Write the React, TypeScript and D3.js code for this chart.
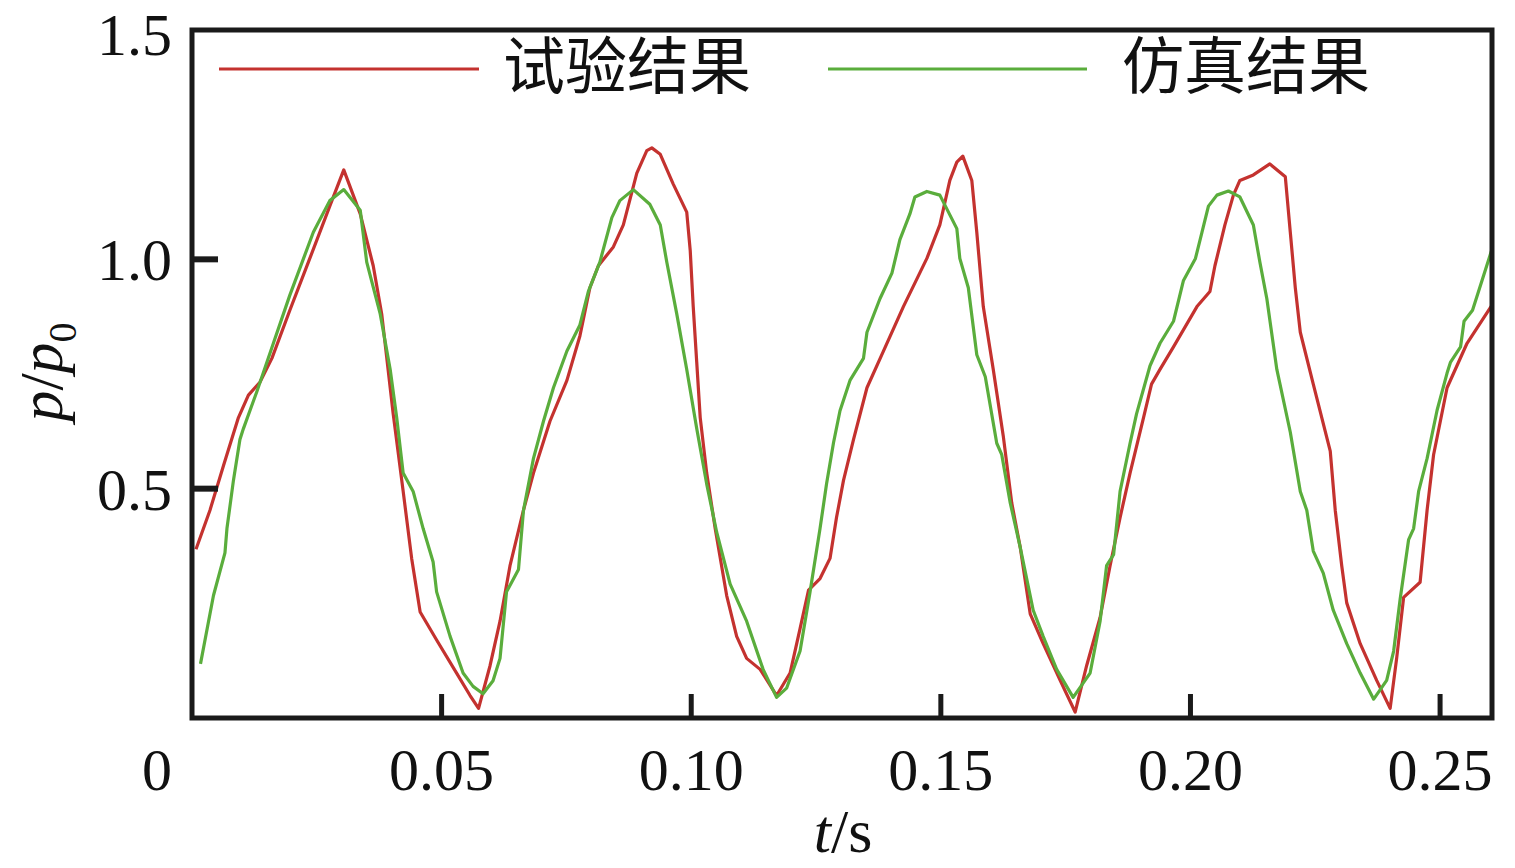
import React from "react";
import * as d3 from "d3";

// ---- data ----
const expT = [0.0008,0.0036,0.0063,0.0093,0.0113,0.0136,0.016,0.0196,0.0236,0.0276,0.0304,0.0337,0.0363,0.038,0.0403,0.0423,0.044,0.0457,0.049,0.053,0.0557,0.0574,0.0597,0.0617,0.0637,0.0664,0.0684,0.0717,0.0751,0.0777,0.0797,0.0814,0.0844,0.0864,0.0891,0.0911,0.0921,0.0938,0.0964,0.0991,0.0998,0.1004,0.1011,0.1018,0.1031,0.1048,0.1071,0.1091,0.1111,0.1138,0.1171,0.1198,0.1218,0.1235,0.1258,0.1278,0.1291,0.1305,0.1325,0.1352,0.1385,0.1425,0.1472,0.1498,0.1518,0.1532,0.1544,0.1562,0.1572,0.1585,0.1605,0.1625,0.1642,0.1659,0.1679,0.1705,0.1739,0.1769,0.1792,0.1819,0.1839,0.1859,0.1879,0.1906,0.1922,0.1939,0.1966,0.2013,0.2039,0.2049,0.2069,0.2086,0.2099,0.2126,0.2159,0.219,0.22,0.221,0.222,0.2246,0.228,0.229,0.2303,0.2313,0.234,0.2373,0.24,0.2413,0.2427,0.246,0.2474,0.2487,0.2514,0.2554,0.2604];
const expV = [0.368,0.453,0.55,0.655,0.704,0.732,0.784,0.889,1.002,1.116,1.195,1.099,0.986,0.881,0.663,0.494,0.348,0.231,0.17,0.098,0.049,0.021,0.114,0.211,0.332,0.453,0.534,0.647,0.736,0.833,0.938,0.986,1.027,1.075,1.188,1.237,1.243,1.229,1.164,1.103,1.019,0.897,0.776,0.655,0.534,0.413,0.267,0.178,0.13,0.106,0.049,0.098,0.195,0.279,0.304,0.348,0.437,0.518,0.607,0.72,0.8,0.897,1.002,1.075,1.172,1.212,1.225,1.172,1.059,0.897,0.76,0.615,0.469,0.372,0.227,0.162,0.082,0.013,0.114,0.219,0.332,0.437,0.534,0.655,0.728,0.76,0.809,0.897,0.93,0.986,1.075,1.14,1.172,1.184,1.208,1.18,1.059,0.938,0.841,0.728,0.582,0.453,0.332,0.251,0.162,0.082,0.021,0.13,0.263,0.296,0.453,0.574,0.72,0.817,0.9];

const simT = [0.0017,0.0043,0.0066,0.007,0.0083,0.0096,0.0103,0.013,0.0163,0.0196,0.0243,0.0276,0.0304,0.0337,0.035,0.0377,0.0397,0.041,0.0423,0.0443,0.0463,0.0483,0.049,0.0517,0.0543,0.0563,0.0583,0.0603,0.0617,0.063,0.0654,0.0664,0.0684,0.0704,0.0724,0.0751,0.0777,0.0794,0.0817,0.0841,0.0857,0.0884,0.0917,0.0938,0.0951,0.0971,0.0991,0.1011,0.1031,0.1051,0.1078,0.1111,0.1144,0.1171,0.1191,0.1218,0.1238,0.1258,0.1271,0.1285,0.1298,0.1318,0.1345,0.1352,0.1378,0.1402,0.1418,0.1438,0.1448,0.1472,0.1498,0.1532,0.1538,0.1555,0.1572,0.1589,0.1612,0.1622,0.1639,0.1659,0.1685,0.1705,0.1732,0.1765,0.1799,0.1819,0.1832,0.1846,0.1859,0.1879,0.1892,0.1919,0.1939,0.1966,0.1986,0.201,0.2023,0.2036,0.2053,0.2076,0.2099,0.2126,0.2139,0.2153,0.2173,0.22,0.222,0.2233,0.2246,0.2266,0.2286,0.2313,0.234,0.2367,0.2393,0.2407,0.242,0.2437,0.2447,0.2457,0.2474,0.2494,0.2514,0.2521,0.2541,0.2548,0.2565,0.2604];
const simV = [0.118,0.267,0.36,0.413,0.518,0.607,0.631,0.712,0.817,0.922,1.059,1.128,1.152,1.107,0.994,0.881,0.76,0.655,0.534,0.494,0.413,0.34,0.275,0.178,0.098,0.069,0.053,0.081,0.13,0.275,0.324,0.453,0.566,0.647,0.72,0.8,0.857,0.93,0.994,1.091,1.128,1.152,1.12,1.075,0.994,0.881,0.76,0.631,0.51,0.405,0.292,0.211,0.106,0.045,0.065,0.146,0.275,0.413,0.51,0.6,0.67,0.736,0.784,0.841,0.914,0.97,1.043,1.099,1.136,1.148,1.14,1.067,1.002,0.938,0.792,0.744,0.599,0.574,0.469,0.372,0.235,0.178,0.106,0.045,0.098,0.211,0.332,0.356,0.494,0.599,0.663,0.768,0.817,0.865,0.954,1.002,1.059,1.116,1.14,1.149,1.136,1.075,0.994,0.914,0.76,0.623,0.494,0.453,0.364,0.316,0.235,0.162,0.098,0.041,0.082,0.146,0.259,0.389,0.413,0.494,0.566,0.671,0.752,0.776,0.809,0.865,0.889,1.022];

const xTicks = [0.05, 0.1, 0.15, 0.2, 0.25];
const xTickLabels = ["0.05", "0.10", "0.15", "0.20", "0.25"];
const yTicks = [0.5, 1.0];
const yTickLabels = [
  { v: 0.5, label: "0.5" },
  { v: 1.0, label: "1.0" },
  { v: 1.5, label: "1.5" },
];
const seriesNames = ["试验结果", "仿真结果"];
const seriesColors = ["#c4322f", "#5aad3c"];

const W = 1515;
const H = 868;
const L = 192, R = 1492, T = 30, B = 718;

export default function App() {
  const x = d3.scaleLinear().domain([0, 0.2604]).range([L, R]);
  const y = d3.scaleLinear().domain([0, 1.5]).range([B, T]);
  const line = d3
    .line<[number, number]>()
    .x((d) => x(d[0]))
    .y((d) => y(d[1]));
  const exp: [number, number][] = expT.map((t, i) => [t, expV[i]]);
  const sim: [number, number][] = simT.map((t, i) => [t, simV[i]]);
  const serif = "'Liberation Serif', 'Times New Roman', serif";
  const cjk = "'Noto Sans CJK SC', sans-serif";
  const axisColor = "#1a1a1a";

  return (
    <svg
      width={W}
      height={H}
      style={{ position: "absolute", left: 0, top: 0, background: "#fff" }}
    >
      <defs>
        <clipPath id="plotClip">
          <rect x={L} y={T} width={R - L} height={B - T} />
        </clipPath>
      </defs>
      <rect x={0} y={0} width={W} height={H} fill="#fff" />

      <g clipPath="url(#plotClip)" fill="none" strokeWidth={3.2} strokeLinejoin="round">
        <path d={line(exp) || ""} stroke={seriesColors[0]} />
        <path d={line(sim) || ""} stroke={seriesColors[1]} />
      </g>

      {/* legend */}
      <line x1={219} x2={479} y1={69} y2={69} stroke={seriesColors[0]} strokeWidth={3.2} />
      <text x={503} y={89} fontFamily={cjk} fontSize={62} fill="#111">
        {seriesNames[0]}
      </text>
      <line x1={828} x2={1087} y1={69} y2={69} stroke={seriesColors[1]} strokeWidth={3.2} />
      <text x={1122} y={89} fontFamily={cjk} fontSize={62} fill="#111">
        {seriesNames[1]}
      </text>

      {/* frame */}
      <rect
        x={L}
        y={T}
        width={R - L}
        height={B - T}
        fill="none"
        stroke={axisColor}
        strokeWidth={5}
      />

      {/* ticks */}
      {xTicks.map((t) => (
        <line
          key={"xt" + t}
          x1={x(t)}
          x2={x(t)}
          y1={B}
          y2={B - 24}
          stroke={axisColor}
          strokeWidth={5}
        />
      ))}
      {yTicks.map((v) => (
        <line
          key={"yt" + v}
          x1={L}
          x2={L + 26}
          y1={y(v)}
          y2={y(v)}
          stroke={axisColor}
          strokeWidth={6}
        />
      ))}

      {/* tick labels */}
      {xTicks.map((t, i) => (
        <text
          key={"xl" + t}
          x={x(t)}
          y={790}
          textAnchor="middle"
          fontFamily={serif}
          fontSize={60}
          fill="#111"
        >
          {xTickLabels[i]}
        </text>
      ))}
      <text x={157} y={790} textAnchor="middle" fontFamily={serif} fontSize={60} fill="#111">
        0
      </text>
      {yTickLabels.map((d) => (
        <text
          key={"yl" + d.v}
          x={172}
          y={Math.max(y(d.v) + 21, 55)}
          textAnchor="end"
          fontFamily={serif}
          fontSize={60}
          fill="#111"
        >
          {d.label}
        </text>
      ))}

      {/* axis titles */}
      <text x={843} y={852} textAnchor="middle" fontFamily={serif} fontSize={62} fill="#111">
        <tspan fontStyle="italic">t</tspan>
        <tspan>/s</tspan>
      </text>
      <text
        transform="translate(62,372) rotate(-90)"
        textAnchor="middle"
        fontFamily={serif}
        fontSize={62}
        fill="#111"
      >
        <tspan fontStyle="italic">p</tspan>
        <tspan>/</tspan>
        <tspan fontStyle="italic">p</tspan>
        <tspan fontSize={40} dy={14}>0</tspan>
      </text>
    </svg>
  );
}
